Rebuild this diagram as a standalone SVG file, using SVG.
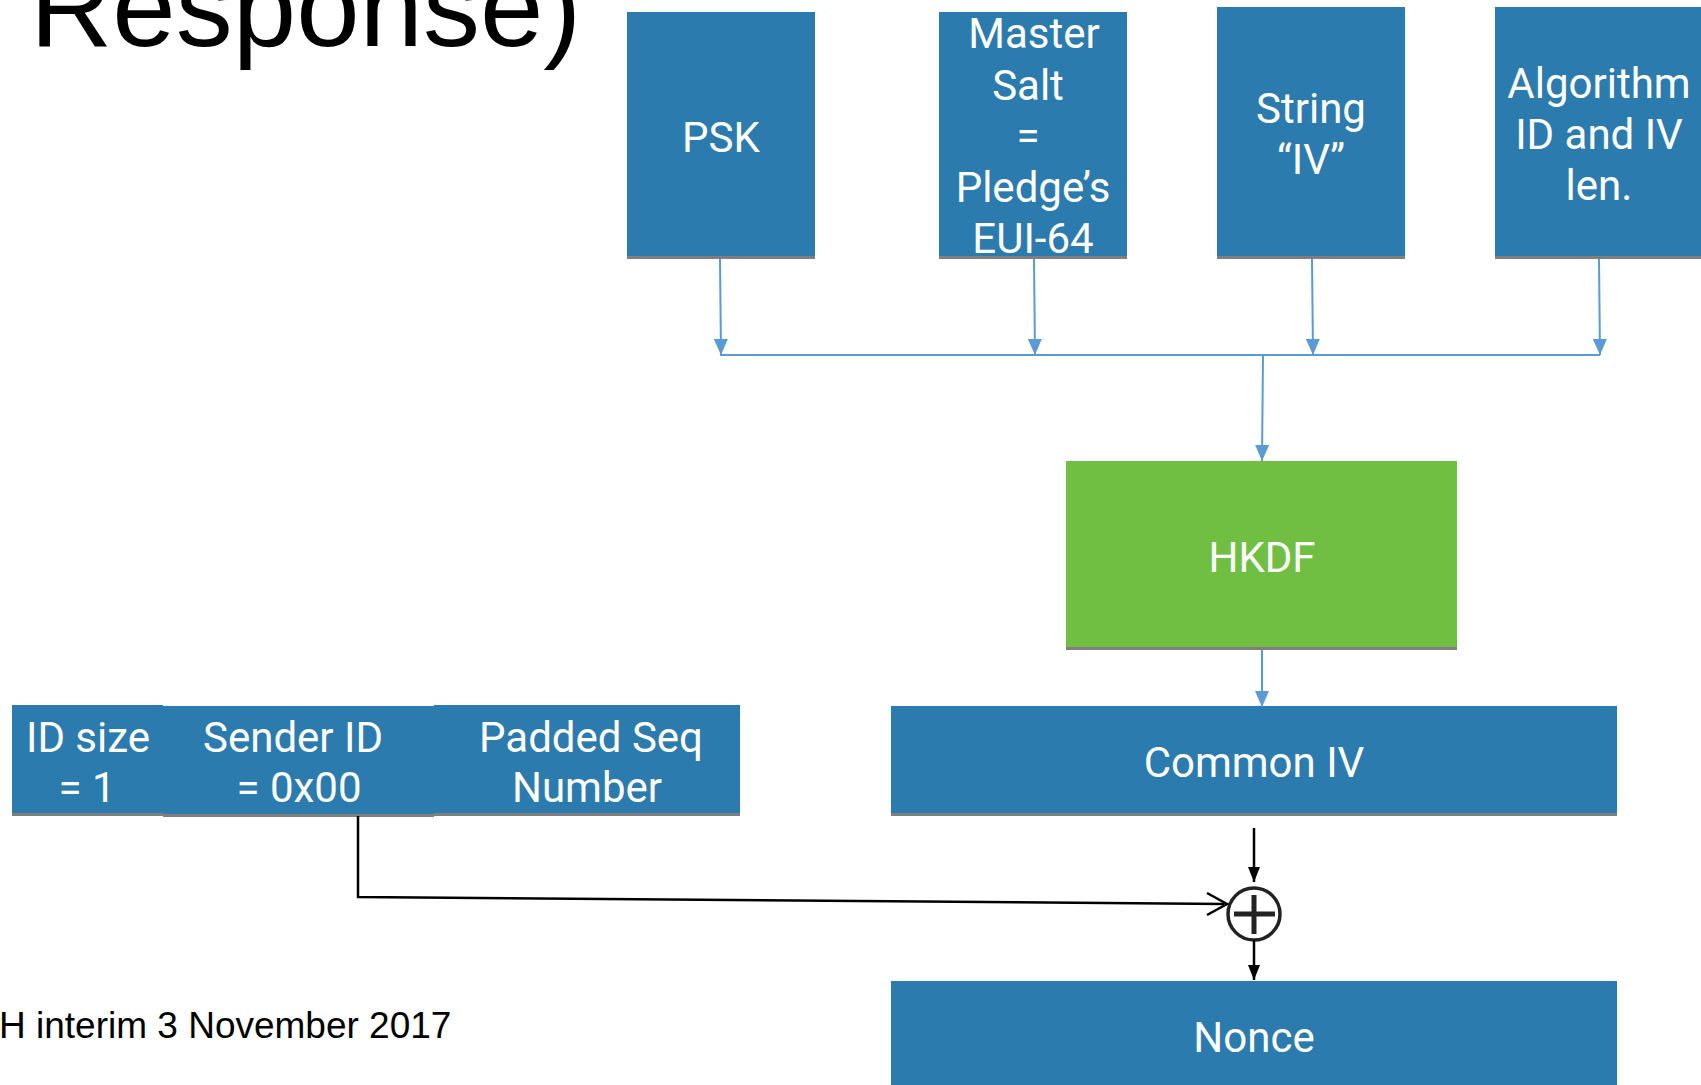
<svg xmlns="http://www.w3.org/2000/svg" width="1701" height="1085" viewBox="0 0 1701 1085">
<defs>
<style>
.box{fill:#2C7BAF}
.hk{fill:#70BF43}
.sh{stroke:#7F7F7F;stroke-width:3}
.lbl{font-family:Roboto,"Liberation Sans",sans-serif;font-size:42px;fill:#fff;text-anchor:middle}
.blue{stroke:#5B9BD5;stroke-width:2;fill:none}
.blk{stroke:#000;stroke-width:2.5;fill:none}
.title{font-family:"Liberation Sans",Arial,sans-serif;fill:#000}
</style>
<marker id="ab" markerUnits="userSpaceOnUse" markerWidth="16" markerHeight="14" refX="16" refY="7" orient="auto" viewBox="0 0 16 14">
<path d="M0,0 L16,7 L0,14 z" fill="#5B9BD5"/>
</marker>
<marker id="ak" markerUnits="userSpaceOnUse" markerWidth="15" markerHeight="12" refX="15" refY="6" orient="auto" viewBox="0 0 15 12">
<path d="M0,0 L15,6 L0,12 z" fill="#000"/>
</marker>
</defs>
<rect width="1701" height="1085" fill="#fff"/>
<text class="title" x="30" y="46" font-size="114">Response)</text>
<text class="title" x="-1" y="1038" font-size="37">H interim 3 November 2017</text>

<g id="psk"><rect class="box" x="627" y="12" width="188" height="246"/><line class="sh" x1="627" y1="257.5" x2="815" y2="257.5"/><text class="lbl" x="721" y="152">PSK</text></g>
<g id="salt"><rect class="box" x="939" y="12" width="188" height="246"/><line class="sh" x1="939" y1="257.5" x2="1127" y2="257.5"/><text class="lbl" x="1034"><tspan x="1034" y="48">Master</tspan><tspan x="1028" y="100">Salt</tspan><tspan x="1028" y="150">=</tspan><tspan x="1033" y="202">Pledge’s</tspan><tspan x="1033" y="253">EUI-64</tspan></text></g>
<g id="string"><rect class="box" x="1217" y="7" width="188" height="251"/><line class="sh" x1="1217" y1="257.5" x2="1405" y2="257.5"/><text class="lbl"><tspan x="1311" y="123">String</tspan><tspan x="1311" y="174">“IV”</tspan></text></g>
<g id="alg"><rect class="box" x="1495" y="7" width="206" height="251"/><line class="sh" x1="1495" y1="257.5" x2="1701" y2="257.5"/><text class="lbl"><tspan x="1599" y="98">Algorithm</tspan><tspan x="1599" y="149">ID and IV</tspan><tspan x="1599" y="200">len.</tspan></text></g>
<g id="hkdf"><rect class="hk" x="1066" y="461" width="391" height="188"/><line class="sh" x1="1066" y1="648.5" x2="1457" y2="648.5"/><text class="lbl" x="1262" y="572">HKDF</text></g>
<g id="commoniv"><rect class="box" x="891" y="706" width="726" height="109"/><line class="sh" x1="891" y1="814.5" x2="1617" y2="814.5"/><text class="lbl" x="1254" y="777">Common IV</text></g>
<g id="idsize"><rect class="box" x="12" y="705" width="151" height="110"/><line class="sh" x1="12" y1="814.5" x2="163" y2="814.5"/><text class="lbl"><tspan x="88" y="752">ID size</tspan><tspan x="87" y="802">= 1</tspan></text></g>
<g id="senderid"><rect class="box" x="163" y="706" width="271" height="110"/><line class="sh" x1="163" y1="815.5" x2="434" y2="815.5"/><text class="lbl"><tspan x="293" y="752">Sender ID</tspan><tspan x="299" y="802">= 0x00</tspan></text></g>
<g id="seq"><rect class="box" x="434" y="705" width="306" height="110"/><line class="sh" x1="434" y1="814.5" x2="740" y2="814.5"/><text class="lbl"><tspan x="591" y="752">Padded Seq</tspan><tspan x="587" y="802">Number</tspan></text></g>
<g id="xor"><circle cx="1254" cy="914" r="26" fill="#fff" stroke="#222" stroke-width="3.5"/><line x1="1234" y1="914" x2="1275" y2="914" stroke="#222" stroke-width="5"/><line x1="1254" y1="895" x2="1254" y2="934" stroke="#222" stroke-width="5"/></g>
<g id="nonce"><rect class="box" x="891" y="981" width="726" height="104"/><text class="lbl" x="1254" y="1052">Nonce</text></g>

<g id="connectors">
<line class="blue" x1="720" y1="259" x2="721" y2="355" marker-end="url(#ab)"/>
<line class="blue" x1="1034" y1="259" x2="1035" y2="355" marker-end="url(#ab)"/>
<line class="blue" x1="1312" y1="259" x2="1313" y2="355" marker-end="url(#ab)"/>
<line class="blue" x1="1599" y1="259" x2="1600" y2="355" marker-end="url(#ab)"/>
<line class="blue" x1="720" y1="355" x2="1600" y2="355"/>
<line class="blue" x1="1263" y1="355" x2="1262" y2="461" marker-end="url(#ab)"/>
<line class="blue" x1="1262" y1="650" x2="1262" y2="707" marker-end="url(#ab)"/>
<polyline class="blk" points="358,816 358,897 1224,904"/>
<polyline class="blk" stroke-width="3" points="1207,893 1227,904 1207,915"/>
<line class="blk" x1="1254" y1="828" x2="1254" y2="882" marker-end="url(#ak)"/>
<line class="blk" x1="1254" y1="940" x2="1254" y2="980" marker-end="url(#ak)"/>
</g>
</svg>
